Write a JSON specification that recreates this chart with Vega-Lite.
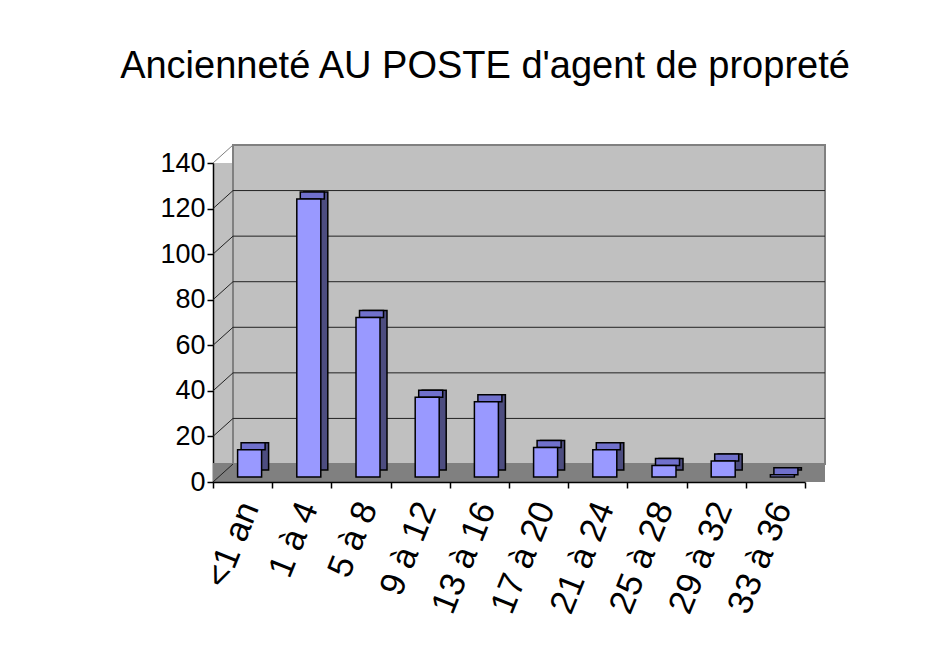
{
  "$schema": "https://vega.github.io/schema/vega-lite/v6.json",
  "width": 592,
  "height": 319,
  "autosize": {"type": "none"},
  "padding": {"left": 213, "top": 163, "right": 141, "bottom": 163},
  "background": "white",
  "title": {
    "text": "Ancienneté AU POSTE d'agent de propreté",
    "font": "Liberation Sans",
    "fontSize": 38,
    "fontWeight": "normal",
    "color": "black",
    "anchor": "middle",
    "frame": "group",
    "dx": -24,
    "offset": 58
  },
  "config": {
    "view": {"fill": "#C0C0C0", "stroke": null},
    "axis": {"domainColor": "black", "tickColor": "black", "labelColor": "black", "grid": false, "domainWidth": 1.5, "tickWidth": 1.5},
    "axisY": {"labelFont": "Liberation Sans", "labelFontSize": 27, "tickSize": 6, "labelPadding": 2, "tickCount": 7},
    "axisX": {"labelFont": "Liberation Sans", "labelFontSize": 35, "labelAngle": -68, "tickBand": "extent", "tickSize": 6, "labelPadding": 15, "labelOffset": 6}
  },
  "datasets": {
    "seniority": [
      {"cat": "<1 an", "n": 12},
      {"cat": "1 à 4", "n": 122},
      {"cat": "5 à 8", "n": 70},
      {"cat": "9 à 12", "n": 35},
      {"cat": "13 à 16", "n": 33},
      {"cat": "17 à 20", "n": 13},
      {"cat": "21 à 24", "n": 12},
      {"cat": "25 à 28", "n": 5},
      {"cat": "29 à 32", "n": 7},
      {"cat": "33 à 36", "n": 1}
    ],
    "grid": [{"v": 0}, {"v": 20}, {"v": 40}, {"v": 60}, {"v": 80}, {"v": 100}, {"v": 120}, {"v": 140}],
    "one": [{"k": 1}]
  },
  "layer": [
    {
      "data": {"name": "one"},
      "mark": {"type": "rect", "color": "#C0C0C0", "stroke": "#808080", "strokeWidth": 2, "xOffset": 20, "x2Offset": 20, "yOffset": -18, "y2Offset": -18},
      "encoding": {
        "x": {"datum": "<1 an", "type": "nominal", "bandPosition": 0, "title": null,
              "scale": {"domain": ["<1 an", "1 à 4", "5 à 8", "9 à 12", "13 à 16", "17 à 20", "21 à 24", "25 à 28", "29 à 32", "33 à 36"], "paddingInner": 0, "paddingOuter": 0}},
        "x2": {"datum": "33 à 36", "bandPosition": 1},
        "y": {"datum": 0, "type": "quantitative", "scale": {"domain": [0, 140]}, "title": null},
        "y2": {"datum": 140}
      }
    },
    {
      "data": {"name": "grid"},
      "transform": [{"filter": "datum.v > 0 && datum.v < 140"}],
      "mark": {"type": "rule", "color": "#222222", "strokeWidth": 1, "xOffset": 20, "x2Offset": 20, "yOffset": -18, "y2Offset": -18},
      "encoding": {
        "x": {"datum": "<1 an", "type": "nominal", "bandPosition": 0, "title": null},
        "x2": {"datum": "33 à 36", "bandPosition": 1},
        "y": {"field": "v", "type": "quantitative", "title": null},
        "y2": {"field": "v"}
      }
    },
    {
      "data": {"name": "one"},
      "mark": {"type": "rect", "color": "#808080", "y2Offset": -19, "x2Offset": 20},
      "encoding": {
        "x": {"datum": "<1 an", "type": "nominal", "bandPosition": 0, "title": null},
        "x2": {"datum": "33 à 36", "bandPosition": 1},
        "y": {"datum": 0, "type": "quantitative", "title": null},
        "y2": {"datum": 0}
      }
    },
    {
      "data": {"name": "grid"},
      "mark": {"type": "rule", "strokeWidth": 1, "x2Offset": 20, "y2Offset": -18},
      "encoding": {
        "x": {"datum": "<1 an", "type": "nominal", "bandPosition": 0, "title": null},
        "x2": {"datum": "<1 an", "bandPosition": 0},
        "y": {"field": "v", "type": "quantitative", "title": null},
        "y2": {"field": "v"},
        "color": {"condition": {"test": "datum.v == 140", "value": "#808080"}, "value": "#222222"}
      }
    },
    {
      "data": {"name": "seniority"},
      "mark": {"type": "bar", "width": 24, "color": "#4D4D80", "stroke": "black", "strokeWidth": 1.5, "xOffset": 14, "yOffset": -12, "y2Offset": -12},
      "encoding": {
        "x": {"field": "cat", "type": "nominal", "sort": null, "title": null},
        "y": {"field": "n", "type": "quantitative", "title": null}
      }
    },
    {
      "data": {"name": "seniority"},
      "mark": {"type": "bar", "width": 24, "color": "#7070CC", "stroke": "black", "strokeWidth": 1.5, "xOffset": 10.5, "yOffset": -12, "y2Offset": -5},
      "encoding": {
        "x": {"field": "cat", "type": "nominal", "sort": null, "title": null},
        "y": {"field": "n", "type": "quantitative", "title": null},
        "y2": {"field": "n"}
      }
    },
    {
      "data": {"name": "seniority"},
      "mark": {"type": "bar", "width": 24, "color": "#9999FF", "stroke": "black", "strokeWidth": 1.5, "xOffset": 7, "yOffset": -5, "y2Offset": -5},
      "encoding": {
        "x": {"field": "cat", "type": "nominal", "sort": null, "title": null},
        "y": {"field": "n", "type": "quantitative", "title": null}
      }
    }
  ]
}
